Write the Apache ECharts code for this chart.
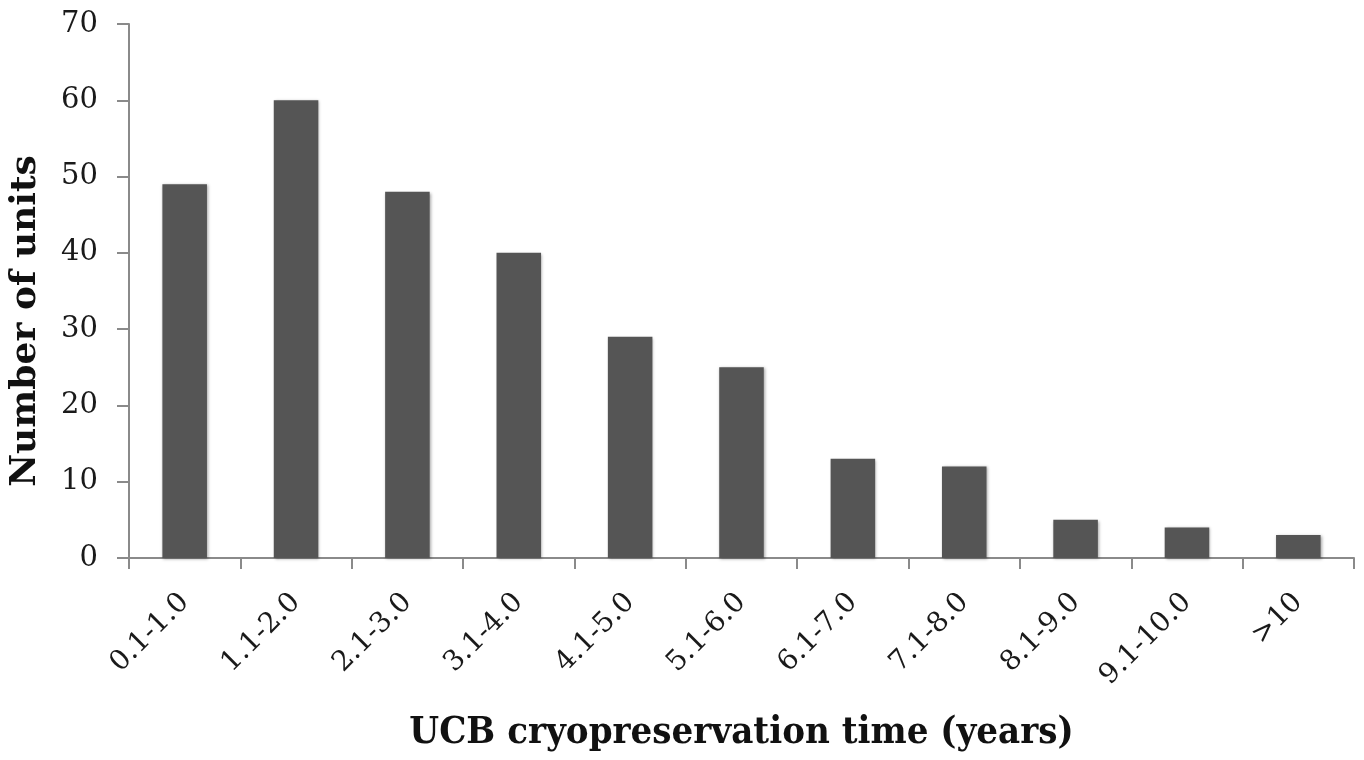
<!DOCTYPE html>
<html>
<head>
<meta charset="utf-8">
<script src="https://cdn.jsdelivr.net/npm/echarts@6/dist/echarts.min.js"></script>
<style>
html,body{margin:0;padding:0;background:#fff;}
#chart{width:1364px;height:760px;}
</style>
</head>
<body>
<div id="chart"></div>
<script>
const categories = ['0.1-1.0','1.1-2.0','2.1-3.0','3.1-4.0','4.1-5.0','5.1-6.0','6.1-7.0','7.1-8.0','8.1-9.0','9.1-10.0','>10'];
const units = [49, 60, 48, 40, 29, 25, 13, 12, 5, 4, 3];
const yTicks = {min: 0, max: 70, interval: 10};
const xTitle = 'UCB cryopreservation time (years)';
const yTitle = 'Number of units';

const axisColor = '#8a8a8a';
const serif = "'DejaVu Serif', 'Liberation Serif', serif";
const titleFont = "'DejaVu Serif Condensed', 'DejaVu Serif', serif";

const chart = echarts.init(document.getElementById('chart'), null, {renderer: 'canvas'});
chart.setOption({
  backgroundColor: '#ffffff',
  animation: false,
  grid: {left: 129, right: 10, top: 24, bottom: 202, containLabel: false, outerBoundsMode: 'none'},
  xAxis: {
    type: 'category',
    data: categories,
    boundaryGap: true,
    axisLine: {show: true, lineStyle: {color: axisColor, width: 2}},
    axisTick: {show: true, length: 11, alignWithLabel: false, lineStyle: {color: axisColor, width: 2}},
    axisLabel: {rotate: 45, interval: 0, margin: 40, fontFamily: serif, fontSize: 28, color: '#1a1a1a'},
    name: xTitle,
    nameLocation: 'middle',
    nameGap: 156,
    nameTextStyle: {fontFamily: titleFont, fontWeight: 'bold', fontSize: 38, color: '#111'}
  },
  yAxis: {
    type: 'value',
    min: yTicks.min, max: yTicks.max, interval: yTicks.interval,
    axisLine: {show: true, lineStyle: {color: axisColor, width: 2}},
    axisTick: {show: true, length: 12, lineStyle: {color: axisColor, width: 2}},
    splitLine: {show: false},
    axisLabel: {margin: 31, fontFamily: serif, fontSize: 29, color: '#1a1a1a'},
    name: yTitle,
    nameLocation: 'middle',
    nameGap: 85,
    nameTextStyle: {fontFamily: serif, fontWeight: 'bold', fontSize: 36, color: '#111', padding: [0, 60, 0, 0]}
  },
  series: [{
    type: 'bar',
    data: units,
    barCategoryGap: '60%',
    itemStyle: {color: '#555555', shadowBlur: 3, shadowColor: 'rgba(0,0,0,0.35)', shadowOffsetX: 1, shadowOffsetY: 1}
  }]
});
</script>
</body>
</html>
